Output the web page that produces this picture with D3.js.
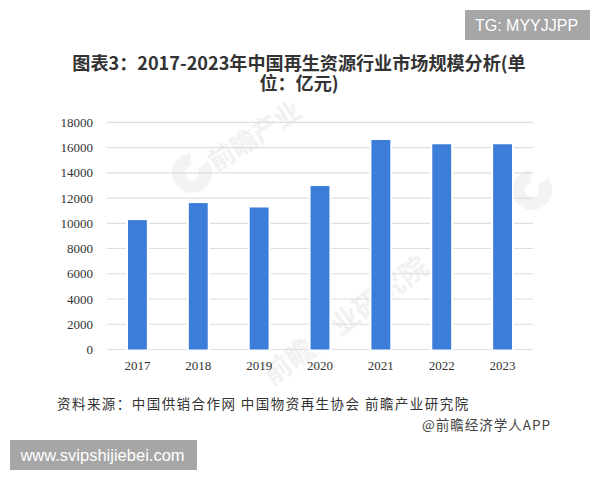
<!DOCTYPE html>
<html>
<head>
<meta charset="utf-8">
<script src="https://cdn.jsdelivr.net/npm/d3@7"></script>
<style>
  html, body { margin: 0; padding: 0; background: #fff; }
  text { font-family: "Noto Sans CJK SC", sans-serif; }
</style>
</head>
<body>
<svg id="chart" width="600" height="480"></svg>
<script>
const years = ["2017", "2018", "2019", "2020", "2021", "2022", "2023"];
const marketSize = [10250, 11600, 11250, 12950, 16600, 16260, 16260];
const yTicks = [0, 2000, 4000, 6000, 8000, 10000, 12000, 14000, 16000, 18000];
const titleLines = ["图表3：2017-2023年中国再生资源行业市场规模分析(单", "位：亿元)"];
const sourceText = "资料来源：中国供销合作网 中国物资再生协会 前瞻产业研究院";
const brandText = "@前瞻经济学人APP";

const svg = d3.select("#chart");

const x = d3.scaleBand().domain(years).range([107, 533]).paddingInner(0.69).paddingOuter(0.345);
const y = d3.scaleLinear().domain([0, 18000]).range([349.5, 122.3]);

// faint watermarks behind the plot
const wmText = [
  {x: 216, y: 172, angle: -33, size: 26, label: "前瞻产业"},
  {x: 272, y: 386, angle: -36, size: 28, label: "前瞻产业研究院"}
];
svg.append("g")
  .selectAll("text")
  .data(wmText)
  .join("text")
  .attr("transform", d => `translate(${d.x},${d.y}) rotate(${d.angle})`)
  .attr("font-size", d => d.size)
  .attr("font-weight", 700)
  .attr("fill", "#f1f1f1")
  .text(d => d.label);

// logo blobs, an open arc reads closer to the original mark than a full disc
const logoArc = d3.arc().innerRadius(7).outerRadius(20).startAngle(0.9).endAngle(2 * Math.PI - 0.1);
svg.append("g")
  .selectAll("path")
  .data([[192, 173], [532, 190]])
  .join("path")
  .attr("transform", d => `translate(${d[0]},${d[1]})`)
  .attr("d", logoArc)
  .attr("fill", "#f3f3f3");

// gridlines
svg.append("g")
  .selectAll("line")
  .data(yTicks)
  .join("line")
  .attr("x1", 107)
  .attr("x2", 533)
  .attr("y1", d => y(d))
  .attr("y2", d => y(d))
  .attr("stroke", "#dcdedf")
  .attr("stroke-width", 1.2);

// bars, the white halo breaks the gridlines like in the original
svg.append("g")
  .selectAll("rect")
  .data(marketSize)
  .join("rect")
  .attr("x", (d, i) => x(years[i]))
  .attr("y", d => y(d))
  .attr("width", x.bandwidth())
  .attr("height", d => y(0) - y(d))
  .attr("fill", "#3b7dd8")
  .attr("stroke", "#fff")
  .attr("stroke-width", 4)
  .style("paint-order", "stroke");

// axes
const yAxis = d3.axisLeft(y).tickValues(yTicks).tickSize(0).tickPadding(14).tickFormat(d3.format("d"));
const gy = svg.append("g").attr("transform", "translate(107,0)").call(yAxis);
gy.select(".domain").remove();
gy.selectAll("text")
  .style("font-family", "'Liberation Serif', serif")
  .style("font-size", "13px")
  .attr("fill", "#333");

const xAxis = d3.axisBottom(x).tickSize(0).tickPadding(11);
const gx = svg.append("g").attr("transform", "translate(0,349.5)").call(xAxis);
gx.select(".domain").remove();
gx.selectAll("text")
  .style("font-family", "'Liberation Serif', serif")
  .style("font-size", "13px")
  .attr("fill", "#333");

// title
svg.append("g")
  .selectAll("text")
  .data(titleLines)
  .join("text")
  .attr("x", 299)
  .attr("y", (d, i) => 70 + i * 19.5)
  .attr("text-anchor", "middle")
  .attr("font-size", 18.1)
  .attr("font-weight", 700)
  .attr("fill", "#333")
  .text(d => d);

// source lines
svg.append("text")
  .attr("x", 57)
  .attr("y", 409)
  .attr("font-size", 13.5)
  .attr("letter-spacing", 1.45)
  .attr("fill", "#333")
  .text(sourceText);

svg.append("text")
  .attr("x", 551)
  .attr("y", 430)
  .attr("text-anchor", "end")
  .attr("font-size", 13.5)
  .attr("letter-spacing", 1)
  .attr("fill", "#444")
  .text(brandText);

// grey stamps
const stamps = [
  {x: 465, y: 10, w: 125, h: 30, label: "TG: MYYJJPP", size: 16},
  {x: 10, y: 440, w: 187, h: 30, label: "www.svipshijiebei.com", size: 16.5}
];
stamps.forEach(s => {
  svg.append("rect").attr("x", s.x).attr("y", s.y).attr("width", s.w).attr("height", s.h).attr("fill", "#a6a6a6");
  svg.append("text")
    .attr("x", s.x + s.w / 2 - 1)
    .attr("y", s.y + s.h / 2 + 5.5)
    .attr("text-anchor", "middle")
    .attr("font-size", s.size)
    .style("font-family", "'Liberation Sans', sans-serif")
    .attr("fill", "#fff")
    .text(s.label);
});
</script>
</body>
</html>
